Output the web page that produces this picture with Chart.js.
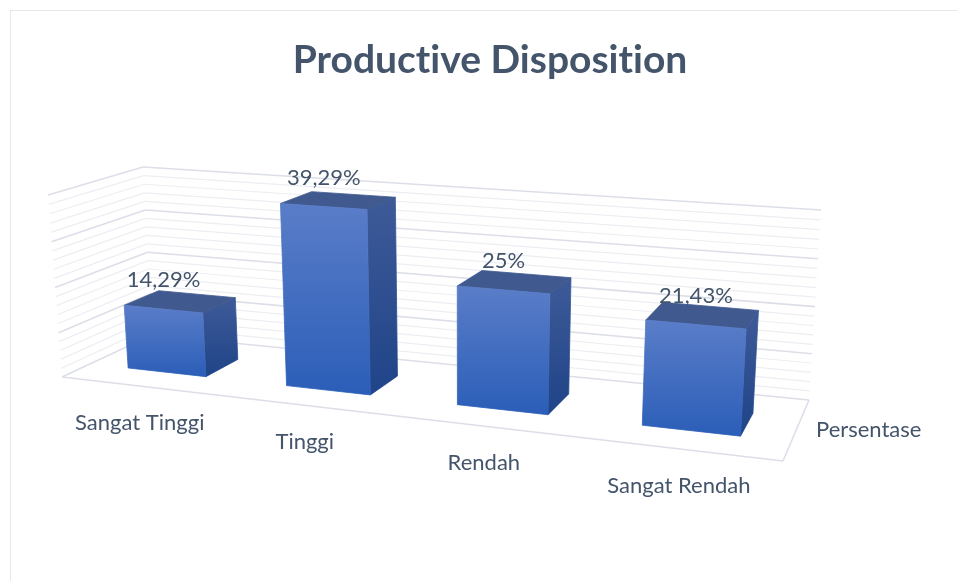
<!DOCTYPE html>
<html lang="id">

<head>
  <meta charset="UTF-8">
  <title>Productive Disposition</title>
  <script src="https://cdn.jsdelivr.net/npm/chart.js"></script>
  <style>
    html,
    body {
      margin: 0;
      padding: 0;
      background: #fff;
      overflow: hidden;
    }

    #frame {
      position: absolute;
      left: 10px;
      top: 10px;
      width: 960px;
      height: 600px;
      border: 1px solid #e6e7ec;
    }

    #chart {
      position: absolute;
      left: 0;
      top: 0;
    }
  </style>
</head>

<body>
  <div id="frame"></div>
  <canvas id="chart" width="957" height="581"></canvas>

  <script>
    const categories = ["Sangat Tinggi", "Tinggi", "Rendah", "Sangat Rendah"];
    const persentase = [14.29, 39.29, 25, 21.43];
    const seriesName = "Persentase";
    const chartTitle = "Productive Disposition";

    const textColor = "#44546a";
    const labelFont = "22px Lato";

    // the 3D box as it sits on the page: front and back plane, TL TR BR BL
    const frontQuad = [[48, 195], [796, 248], [783, 461], [62, 377]];
    const backQuad = [[143, 167], [821, 210], [809, 400], [152, 335]];
    const barFrontDepth = 0.315;
    const barBackDepth = 0.70;

    function quadAt(depth) {
      return frontQuad.map((p, i) => [
        p[0] + (backQuad[i][0] - p[0]) * depth,
        p[1] + (backQuad[i][1] - p[1]) * depth
      ]);
    }

    // unit square -> quad
    function project(u, v, depth) {
      const [[x0, y0], [x1, y1], [x2, y2], [x3, y3]] = quadAt(depth);
      const dx1 = x1 - x2, dx2 = x3 - x2, sx = x0 - x1 + x2 - x3;
      const dy1 = y1 - y2, dy2 = y3 - y2, sy = y0 - y1 + y2 - y3;
      const det = dx1 * dy2 - dx2 * dy1;
      const g = (sx * dy2 - dx2 * sy) / det;
      const h = (dx1 * sy - sx * dy1) / det;
      const w = g * u + h * v + 1;
      return [
        ((x1 - x0 + g * x1) * u + (x3 - x0 + h * x3) * v + x0) / w,
        ((y1 - y0 + g * y1) * u + (y3 - y0 + h * y3) * v + y0) / w
      ];
    }

    function line(ctx, a, b, color, width) {
      ctx.beginPath();
      ctx.moveTo(a[0], a[1]);
      ctx.lineTo(b[0], b[1]);
      ctx.strokeStyle = color;
      ctx.lineWidth = width;
      ctx.stroke();
    }

    function face(ctx, pts, fill) {
      ctx.beginPath();
      pts.forEach((p, i) => i ? ctx.lineTo(p[0], p[1]) : ctx.moveTo(p[0], p[1]));
      ctx.closePath();
      ctx.fillStyle = fill;
      ctx.fill();
      // hides the light seam between two faces
      ctx.strokeStyle = fill;
      ctx.lineWidth = 0.8;
      ctx.stroke();
    }

    function vGradient(ctx, top, bottom, c1, c2) {
      const g = ctx.createLinearGradient(0, top, 0, bottom);
      g.addColorStop(0, c1);
      g.addColorStop(1, c2);
      return g;
    }

    const box3d = {
      id: "box3d",
      beforeDraw(chart) {
        // no "ti" ligature in the title
        chart.ctx.textRendering = "optimizeSpeed";
      },
      beforeDatasetsDraw(chart) {
        const { ctx, chartArea: area, scales: { y } } = chart;
        ctx.save();
        y.ticks.forEach(tick => {
          const v = (y.getPixelForValue(tick.value) - area.top) / area.height;
          const major = tick.value % 10 === 0;
          const color = major ? "#dcdfe8" : "#eceef3";
          const width = major ? 1.6 : 1.2;
          line(ctx, project(0, v, 0), project(0, v, 1), color, width);
          line(ctx, project(0, v, 1), project(1, v, 1), color, width);
        });
        // floor edges
        line(ctx, project(0, 1, 0), project(1, 1, 0), "#dcdfe8", 1.6);
        line(ctx, project(1, 1, 0), project(1, 1, 1), "#dcdfe8", 1.6);
        ctx.restore();
      },
      afterDatasetsDraw(chart) {
        const { ctx, chartArea: area } = chart;
        ctx.save();
        chart.getDatasetMeta(0).data.forEach((bar, i) => {
          const u0 = (bar.x - bar.width / 2 - area.left) / area.width;
          const u1 = (bar.x + bar.width / 2 - area.left) / area.width;
          const vTop = (bar.y - area.top) / area.height;
          const vBase = (bar.base - area.top) / area.height;

          const ftl = project(u0, vTop, barFrontDepth);
          const ftr = project(u1, vTop, barFrontDepth);
          const fbr = project(u1, vBase, barFrontDepth);
          const fbl = project(u0, vBase, barFrontDepth);
          const btl = project(u0, vTop, barBackDepth);
          const btr = project(u1, vTop, barBackDepth);
          const bbr = project(u1, vBase, barBackDepth);

          face(ctx, [ftr, btr, bbr, fbr], vGradient(ctx, btr[1], fbr[1], "#3e5a98", "#1f4488"));
          face(ctx, [ftl, btl, btr, ftr], "#40598f");
          face(ctx, [ftl, ftr, fbr, fbl], vGradient(ctx, ftl[1], fbr[1], "#5a7dc8", "#2b5eb8"));

          ctx.fillStyle = textColor;
          ctx.font = labelFont;
          ctx.textAlign = "center";
          ctx.textBaseline = "middle";
          const label = String(persentase[i]).replace(".", ",") + "%";
          ctx.fillText(label, (ftl[0] + ftr[0]) / 2, (ftl[1] + ftr[1]) / 2 - 29);

          const foot = project((bar.x - area.left) / area.width, 1, 0);
          ctx.fillText(categories[i], foot[0], foot[1] + 37);
        });
        const side = project(1, 1, 0.5);
        ctx.textAlign = "left";
        ctx.fillText(seriesName, side[0] + 20, side[1] - 1);
        ctx.restore();
      }
    };

    new Chart(document.getElementById("chart"), {
      type: "bar",
      data: {
        labels: categories,
        datasets: [{
          label: seriesName,
          data: persentase,
          backgroundColor: "transparent",
          barPercentage: 0.5,
          categoryPercentage: 1
        }]
      },
      options: {
        responsive: false,
        animation: false,
        layout: { padding: { left: 60, right: 45, bottom: 40 } },
        plugins: {
          legend: { display: false },
          tooltip: { enabled: false },
          title: {
            display: true,
            text: chartTitle,
            fullSize: false,
            color: textColor,
            font: { family: "Lato", size: 39, weight: "bold" },
            padding: { top: 37, bottom: 20 }
          }
        },
        scales: {
          x: { grid: { display: false }, border: { display: false }, ticks: { display: false } },
          y: {
            min: 0,
            max: 40,
            grid: { display: false },
            border: { display: false },
            ticks: { display: false, stepSize: 2 }
          }
        }
      },
      plugins: [box3d]
    });
  </script>
</body>

</html>
